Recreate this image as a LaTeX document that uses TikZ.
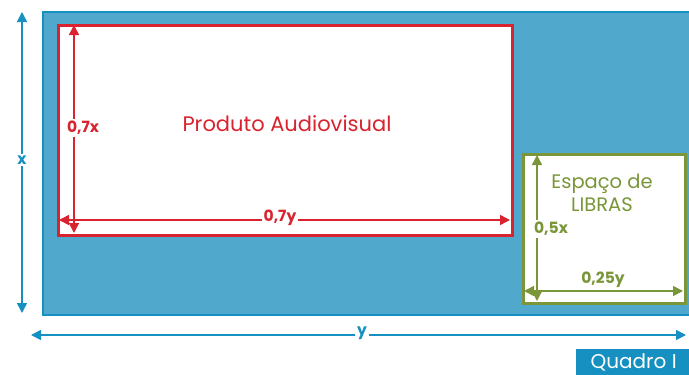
\documentclass[tikz,border=0pt]{standalone}
\usepackage{fontspec}
\setmainfont{Poppins}
\usetikzlibrary{arrows.meta}
\definecolor{bluefill}{HTML}{50A8CC}
\definecolor{blueline}{HTML}{1590C0}
\definecolor{redc}{HTML}{D9232E}
\definecolor{greenc}{HTML}{7A9638}
\tikzset{
  dim/.style={line width=1.5pt,{Triangle[length=10pt,width=10pt]}-{Triangle[length=10pt,width=10pt]}},
  lbl/.style={fill=white,inner sep=2pt,font=\fontsize{15.5}{18}\selectfont\bfseries},
}
\begin{document}
\begin{tikzpicture}[x=1pt,y=-1pt]
\useasboundingbox (0,0) rectangle (689,375);
% frame
\draw[blueline,line width=2pt,fill=bluefill] (43,12) rectangle (700,315);
% red box
\node[draw=redc,line width=3pt,fill=white,minimum width=454pt,minimum height=210pt,inner sep=0pt,anchor=north west] (prod) at (57,24) {};
\node[text=redc,font=\fontsize{21}{24}\selectfont] (prodt) at (287,124) {Produto Audiovisual};
\coordinate (r1) at (74,25);
\coordinate (r2) at (74,233);
\draw[dim,redc] (r1) -- (r2);
\node[lbl,text=redc,fill=white] (r07x) at (83,128) {0,7x};
\coordinate (r3) at (59,220);
\coordinate (r4) at (510,220);
\draw[dim,redc] (r3) -- (r4);
\node[lbl,text=redc] (r07y) at (280,218) {0,7y};
% green box
\node[draw=greenc,line width=3pt,fill=white,minimum width=162pt,minimum height=149pt,inner sep=0pt,anchor=north west] (libras) at (522,153) {};
\node[text=greenc,font=\fontsize{19.5}{23}\selectfont,align=center] (librast) at (602,193) {Espaço de\\LIBRAS};
\coordinate (g1) at (537,155);
\coordinate (g2) at (537,301);
\draw[dim,greenc] (g1) -- (g2);
\node[lbl,text=greenc] (g05x) at (551,229) {0,5x};
\coordinate (g3) at (524,291);
\coordinate (g4) at (683,291);
\draw[dim,greenc] (g3) -- (g4);
\node[lbl,text=greenc] (g025y) at (603,280) {0,25y};
% outer dimensions
\coordinate (bx1) at (22,12);
\coordinate (bx2) at (22,313);
\draw[dim,blueline] (bx1) -- (bx2);
\node[lbl,text=blueline] (xl) at (22,160) {x};
\coordinate (by1) at (31,335);
\coordinate (by2) at (686,335);
\draw[dim,blueline] (by1) -- (by2);
\node[lbl,text=blueline] (yl) at (362,333) {y};
% Quadro
\node[fill=blueline,text=white,anchor=north west,minimum width=115pt,minimum height=26pt,inner sep=0pt,font=\fontsize{20}{22}\selectfont] (quadro) at (576,349) {Quadro I};
\end{tikzpicture}
\end{document}
